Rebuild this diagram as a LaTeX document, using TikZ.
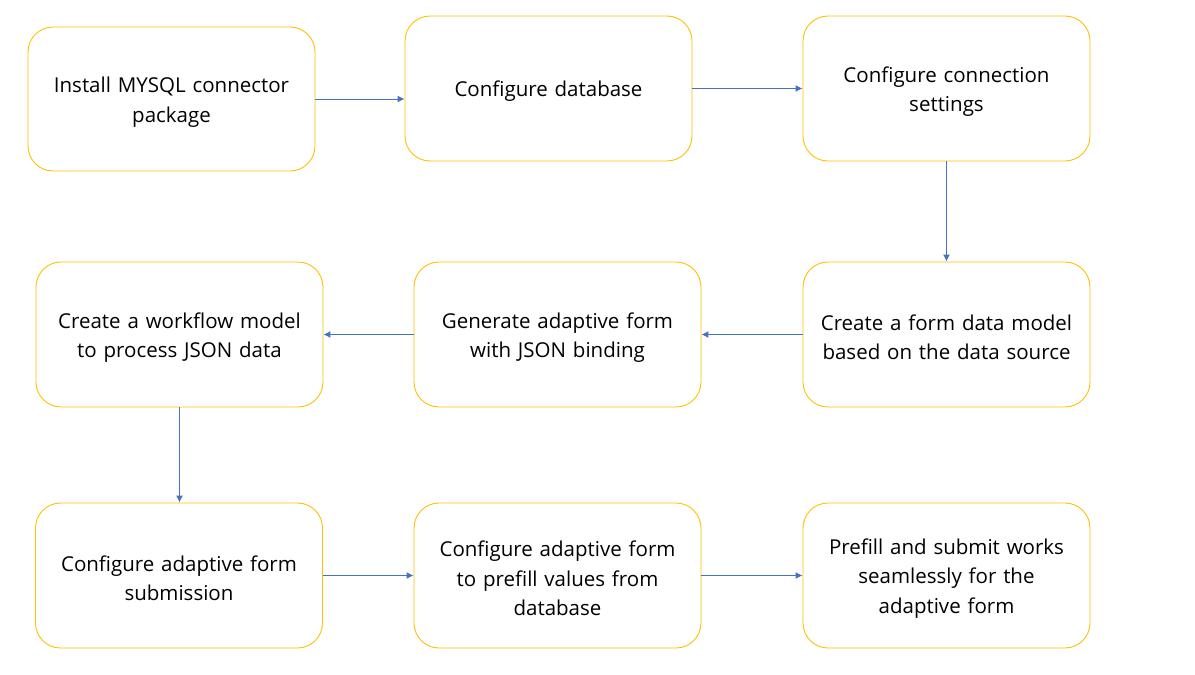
\documentclass[tikz,border=0pt]{standalone}
\usepackage{fontspec}
\setmainfont{Open Sans}
\usetikzlibrary{arrows.meta}
\definecolor{boxline}{HTML}{FFC000}
\definecolor{flowline}{HTML}{4472C4}
\tikzset{
  stepbox/.style={draw=boxline, line width=0.9pt, fill=white, rounded corners=25pt,
    minimum width=287pt, minimum height=145pt, align=center, text width=280pt,
    font=\fontsize{20.5}{29.5}\selectfont, inner sep=0pt,
    execute at begin node={\rule{0pt}{21.5pt}}},
  flow/.style={draw=flowline, line width=1pt, -{Latex[length=7pt,width=7pt]}}
}
\begin{document}
\begin{tikzpicture}[x=1pt, y=-1pt, line join=round]
\useasboundingbox (0,0) rectangle (1195,675);
\node[stepbox, minimum height=144pt] (install)   at (171.5,99)   {Install MYSQL connector\\package};
\node[stepbox] (database)  at (548.5,88.5)  {Configure database};
\node[stepbox] (connect)   at (946.5,88.5)  {Configure connection\\settings};
\node[stepbox] (workflow)  at (179.5,334.5) {Create a workflow model\\to process JSON data};
\node[stepbox] (generate)  at (557.5,334.5) {Generate adaptive form\\with JSON binding};
\node[stepbox] (fdm)       at (946.5,334.5) {Create a form data model\\based on the data source};
\node[stepbox] (submit)    at (179,575.5)   {Configure adaptive form\\submission};
\node[stepbox] (prefill)   at (557.5,575.5) {Configure adaptive form\\to prefill values from\\database};
\node[stepbox] (works)     at (946.5,575.5) {Prefill and submit works\\seamlessly for the\\adaptive form};
\draw[flow] (install.east) -- (install.east -| database.west);
\draw[flow] (database) -- (connect);
\draw[flow] (connect) -- (fdm);
\draw[flow] (fdm) -- (generate);
\draw[flow] (generate) -- (workflow);
\draw[flow] (workflow.south) -- (workflow.south |- submit.north);
\draw[flow] (submit) -- (prefill);
\draw[flow] (prefill) -- (works);
\end{tikzpicture}
\end{document}
